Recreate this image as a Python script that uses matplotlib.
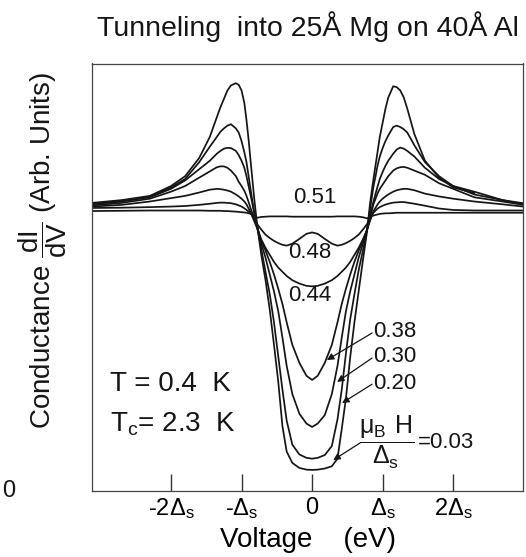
import matplotlib
matplotlib.use("Agg")
import matplotlib.pyplot as plt

plt.rcParams['font.family'] = ['Liberation Sans', 'DejaVu Sans']

# Voltage in units of the gap Delta_s
voltage = [-3.12, -2.7, -2.3, -2.0, -1.8, -1.6, -1.45, -1.35, -1.3, -1.25,
           -1.2, -1.15, -1.08, -1.04, -1.0, -0.96, -0.93, -0.9, -0.87, -0.82,
           -0.78, -0.72, -0.66, -0.6, -0.54, -0.48, -0.42, -0.36, -0.28, -0.18,
           -0.08, 0.0,
           0.08, 0.18, 0.28, 0.36, 0.42, 0.48, 0.54, 0.6, 0.66, 0.72,
           0.78, 0.82, 0.87, 0.9, 0.93, 0.96, 1.0, 1.04, 1.08, 1.15,
           1.2, 1.25, 1.3, 1.35, 1.45, 1.6, 1.8, 2.0, 2.3, 2.7, 2.99]

nan = float('nan')
g_003 = [1.025, 1.035, 1.05, 1.085, 1.12, 1.185, 1.26, 1.33, 1.365, 1.395,
         1.425, 1.443, 1.451, 1.445, 1.425, 1.38, 1.32, 1.25, 1.17, 1.04,
         0.95, 0.84, 0.75, 0.645, 0.52, 0.39, 0.23, 0.14, 0.10, 0.082,
         0.076, 0.075,
         0.076, 0.08, 0.088, 0.115, 0.22, 0.33, 0.475, 0.60, 0.71, 0.82,
         0.925, 1.02, 1.11, 1.16, 1.21, 1.26, 1.31, 1.36, 1.40, 1.44,
         1.437, 1.425, 1.40, 1.36, 1.27, 1.175, 1.115, 1.08, 1.06, nan, nan]
g_020 = [1.022, 1.032, 1.047, 1.08, 1.11, 1.17, 1.225, 1.26, 1.278, 1.29,
         1.30, 1.305, 1.29, 1.275, 1.245, 1.205, 1.17, 1.12, 1.07, 0.99,
         0.94, 0.86, 0.78, 0.70, 0.60, 0.48, 0.36, 0.25, 0.165, 0.13,
         0.118, 0.115,
         0.118, 0.128, 0.16, 0.255, 0.36, 0.49, 0.61, 0.70, 0.785, 0.855,
         0.93, 1.0, 1.083, 1.12, 1.16, 1.19, 1.22, 1.245, 1.265, 1.295,
         1.30, 1.295, 1.287, 1.275, 1.23, 1.17, 1.12, 1.085, 1.065, 1.035, 1.024]
g_030 = [1.02, 1.03, 1.045, 1.075, 1.105, 1.145, 1.175, 1.20, 1.21, 1.218,
         1.221, 1.22, 1.21, 1.195, 1.175, 1.15, 1.12, 1.085, 1.05, 0.99,
         0.945, 0.88, 0.83, 0.77, 0.71, 0.64, 0.545, 0.445, 0.345, 0.275,
         0.24, 0.228,
         0.24, 0.27, 0.345, 0.445, 0.545, 0.64, 0.71, 0.77, 0.83, 0.88,
         0.93, 0.98, 1.03, 1.058, 1.085, 1.11, 1.135, 1.157, 1.175, 1.20,
         1.215, 1.222, 1.218, 1.21, 1.19, 1.15, 1.11, 1.085, 1.055, 1.035, 1.02]
g_038 = [1.016, 1.025, 1.04, 1.065, 1.085, 1.115, 1.137, 1.152, 1.155, 1.155,
         1.15, 1.14, 1.12, 1.10, 1.085, 1.068, 1.05, 1.028, 1.005, 0.97,
         0.94, 0.89, 0.855, 0.815, 0.77, 0.72, 0.665, 0.60, 0.52, 0.456,
         0.41, 0.395,
         0.41, 0.456, 0.52, 0.60, 0.665, 0.72, 0.77, 0.815, 0.855, 0.89,
         0.93, 0.97, 1.02, 1.04, 1.06, 1.075, 1.09, 1.105, 1.12, 1.14,
         1.148, 1.152, 1.153, 1.15, 1.14, 1.125, 1.095, 1.075, 1.045, 1.03, 1.018]
g_044 = [1.012, 1.018, 1.03, 1.042, 1.05, 1.062, 1.072, 1.075, 1.074, 1.072,
         1.069, 1.065, 1.055, 1.048, 1.04, 1.03, 1.02, 1.005, 0.99, 0.96,
         0.935, 0.895, 0.865, 0.84, 0.815, 0.795, 0.78, 0.765, 0.75, 0.738,
         0.73, 0.728,
         0.73, 0.738, 0.75, 0.765, 0.78, 0.795, 0.815, 0.84, 0.865, 0.895,
         0.93, 0.96, 0.995, 1.008, 1.02, 1.03, 1.04, 1.048, 1.055, 1.065,
         1.07, 1.073, 1.075, 1.075, 1.07, 1.058, 1.048, 1.04, 1.03, 1.02, 1.012]
g_048 = [1.007, 1.008, 1.01, 1.012, 1.014, 1.018, 1.022, 1.025, 1.026, 1.026,
         1.025, 1.024, 1.02, 1.016, 1.012, 1.006, 1.0, 0.994, 0.988, 0.97,
         0.95, 0.93, 0.912, 0.90, 0.89, 0.882, 0.876, 0.873, 0.88, 0.897,
         0.915, 0.92,
         0.915, 0.897, 0.88, 0.873, 0.876, 0.882, 0.89, 0.90, 0.912, 0.93,
         0.95, 0.97, 0.99, 0.998, 1.005, 1.01, 1.015, 1.019, 1.022, 1.026,
         1.027, 1.028, 1.028, 1.026, 1.022, 1.015, 1.005, 1.0, 0.998, 0.998, 0.998]
g_051 = [0.996, 0.997, 0.998, 0.998, 0.998, 0.998, 0.997, 0.997, 0.997, 0.996,
         0.996, 0.995, 0.994, 0.993, 0.992, 0.991, 0.99, 0.988, 0.986, 0.98,
         0.972, 0.975, 0.976, 0.977, 0.977, 0.977, 0.977, 0.977, 0.976, 0.976,
         0.976, 0.976,
         0.976, 0.976, 0.976, 0.977, 0.977, 0.977, 0.977, 0.977, 0.976, 0.974,
         0.97, 0.975, 0.98, 0.982, 0.984, 0.986, 0.987, 0.988, 0.988, 0.989,
         0.99, 0.99, 0.99, 0.99, 0.99, 0.99, 0.99, 0.99, 0.99, 0.99, 0.99]

field_labels = ['0.03', '0.20', '0.30', '0.38', '0.44', '0.48', '0.51']
curves = [g_003, g_020, g_030, g_038, g_044, g_048, g_051]

tick_pos = [-2, -1, 0, 1, 2]
tick_labels = ['-2' + r'$\mathregular{\Delta_s}$', '-' + r'$\mathregular{\Delta_s}$', '0',
               r'$\mathregular{\Delta_s}$', '2' + r'$\mathregular{\Delta_s}$']

ink = '#151515'
W, H = 526, 557
fig = plt.figure(figsize=(W / 100, H / 100), dpi=100)
ax = fig.add_axes([92 / W, 66 / H, 431 / W, 427.5 / H])

for g in curves:
    ax.plot(voltage, g, color=ink, lw=1.25, solid_joinstyle='round')

ax.set_xlim(-3.12, 2.99)
ax.set_ylim(0, 1.521)
ax.set_yticks([])
ax.set_xticks(tick_pos)
ax.set_xticklabels(tick_labels, fontsize=17)
ax.tick_params(axis='x', direction='in', length=12, width=1.0, color='#333333', pad=4)
for s in ax.spines.values():
    s.set_color('#444444')
    s.set_linewidth(0.9)

ax.set_xlabel('Voltage    (eV)', fontsize=20, labelpad=4)

# curve labels
ax.text(0.04, 1.043, field_labels[6], fontsize=16, ha='center', va='center', color=ink)
ax.text(-0.03, 0.85, field_labels[5], fontsize=16, ha='center', va='center', color=ink)
ax.text(-0.04, 0.694, field_labels[4], fontsize=16, ha='center', va='center', color=ink)

arrow_kw = dict(arrowstyle='-|>', color=ink, lw=0.9, mutation_scale=10, shrinkA=0, shrinkB=0)
for lab, gy, head in [(field_labels[3], 0.566, (0.21, 0.466)),
                      (field_labels[2], 0.477, (0.355, 0.388)),
                      (field_labels[1], 0.384, (0.425, 0.313))]:
    ax.text(0.865, gy, lab, fontsize=16, ha='left', va='center', color=ink)
    ax.annotate('', xy=head, xytext=(0.85, gy - 0.004), arrowprops=arrow_kw)

ax.annotate('', xy=(0.30, 0.110), xytext=(0.68, 0.171), arrowprops=arrow_kw)
ax.text(1.05, 0.171, r'$\mathregular{\dfrac{\mu_B\ H}{\Delta_s}}$', fontsize=18,
        ha='center', va='center', color=ink)
ax.text(1.50, 0.171, '=' + field_labels[0], fontsize=16, ha='left', va='center', color=ink)

ax.text(-2.865, 0.357, 'T = 0.4  K', fontsize=20, ha='left', va='baseline', color=ink)
ax.text(-2.865, 0.211, r'T$\mathregular{_c}$= 2.3  K', fontsize=20, ha='left', va='baseline', color=ink)

fig.text(308 / W, 1 - 36 / H, 'Tunneling  into 25Å Mg on 40Å Al', fontsize=20.5,
         ha='center', va='baseline', color=ink)
fig.text(43 / W, 1 - 250 / H, r'Conductance $\mathregular{\dfrac{dI}{dV}}$ (Arb. Units)',
         fontsize=20, rotation=90, ha='center', va='center', color=ink)
fig.text(9 / W, 1 - 491 / H, '0', fontsize=17, ha='center', va='center', color=ink)

fig.savefig('out.png', dpi=100, facecolor='white')
